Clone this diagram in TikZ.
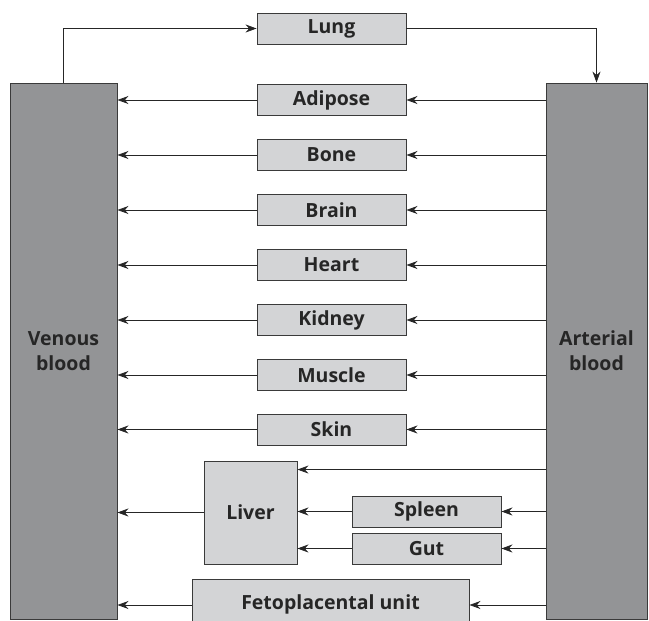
\documentclass[tikz,border=0pt]{standalone}
\usepackage{fontspec}
\setmainfont{Open Sans}
\usetikzlibrary{arrows.meta}
\definecolor{organfill}{HTML}{D3D4D6}
\definecolor{bloodfill}{HTML}{939496}
\definecolor{edgegray}{HTML}{3A3A3A}

\begin{document}
\begin{tikzpicture}[x=1pt, y=-1pt,
  organ/.style={rectangle, draw=edgegray, fill=organfill, line width=0.9pt, inner sep=0pt, text=black!85, font=\bfseries\fontsize{19.5}{25}\selectfont},
  blood/.style={organ, fill=bloodfill, align=center},
  flow/.style={-{Stealth[length=11pt, width=8pt]}, line width=0.8pt, draw=black!85}]
\useasboundingbox (0,0) rectangle (649,621);

% 血液
\node[blood, minimum width=107, minimum height=536] (V) at (63.5,351) {Venous\\blood};
\node[blood, minimum width=101, minimum height=536] (A) at (596.5,351) {Arterial\\blood};

% 肺
\node[organ, minimum width=149, minimum height=31] (Lu) at (331.5,28.5) {Lung};

% 器官
\node[organ, minimum width=149, minimum height=31] (Ad) at (331.5,100) {Adipose};
\node[organ, minimum width=149, minimum height=31] (Bo) at (331.5,155) {Bone};
\node[organ, minimum width=149, minimum height=31] (Br) at (331.5,210) {Brain};
\node[organ, minimum width=149, minimum height=31] (He) at (331.5,265) {Heart};
\node[organ, minimum width=149, minimum height=31] (Ki) at (331.5,320) {Kidney};
\node[organ, minimum width=149, minimum height=31] (Mu) at (331.5,375) {Muscle};
\node[organ, minimum width=149, minimum height=31] (Sk) at (331.5,429.5) {Skin};

% 肝、脾、肠
\node[organ, minimum width=93, minimum height=103] (Li) at (250.5,512.5) {Liver};
\node[organ, minimum width=149, minimum height=31] (Sp) at (426.5,511.5) {Spleen};
\node[organ, minimum width=149, minimum height=31] (Gu) at (426.5,548.5) {Gut};
\coordinate (LiTop) at ([yshift=-9pt]Li.north east);

% 胎盘
\node[organ, minimum width=277, minimum height=50] (Fe) at (330.5,604) {Fetoplacental unit};

% 连线
\draw[flow] (V.north) |- (Lu.west);
\draw[flow] (Lu.east) -| (A.north);
\draw[flow] (Ad.east -| A.west) -- (Ad.east);
\draw[flow] (Ad.west) -- (Ad.west -| V.east);
\draw[flow] (Bo.east -| A.west) -- (Bo.east);
\draw[flow] (Bo.west) -- (Bo.west -| V.east);
\draw[flow] (Br.east -| A.west) -- (Br.east);
\draw[flow] (Br.west) -- (Br.west -| V.east);
\draw[flow] (He.east -| A.west) -- (He.east);
\draw[flow] (He.west) -- (He.west -| V.east);
\draw[flow] (Ki.east -| A.west) -- (Ki.east);
\draw[flow] (Ki.west) -- (Ki.west -| V.east);
\draw[flow] (Mu.east -| A.west) -- (Mu.east);
\draw[flow] (Mu.west) -- (Mu.west -| V.east);
\draw[flow] (Sk.east -| A.west) -- (Sk.east);
\draw[flow] (Sk.west) -- (Sk.west -| V.east);
\draw[flow] (LiTop -| A.west) -- (LiTop);
\draw[flow] (Sp.east -| A.west) -- (Sp.east);
\draw[flow] (Gu.east -| A.west) -- (Gu.east);
\draw[flow] (Sp.west) -- (Sp.west -| Li.east);
\draw[flow] (Gu.west) -- (Gu.west -| Li.east);
\draw[flow] (Li.west) -- (Li.west -| V.east);
\draw[flow] ([yshift=-1pt]Fe.east -| A.west) -- ([yshift=-1pt]Fe.east);
\draw[flow] ([yshift=-1pt]Fe.west) -- ([yshift=-1pt]Fe.west -| V.east);

\end{tikzpicture}
\end{document}
